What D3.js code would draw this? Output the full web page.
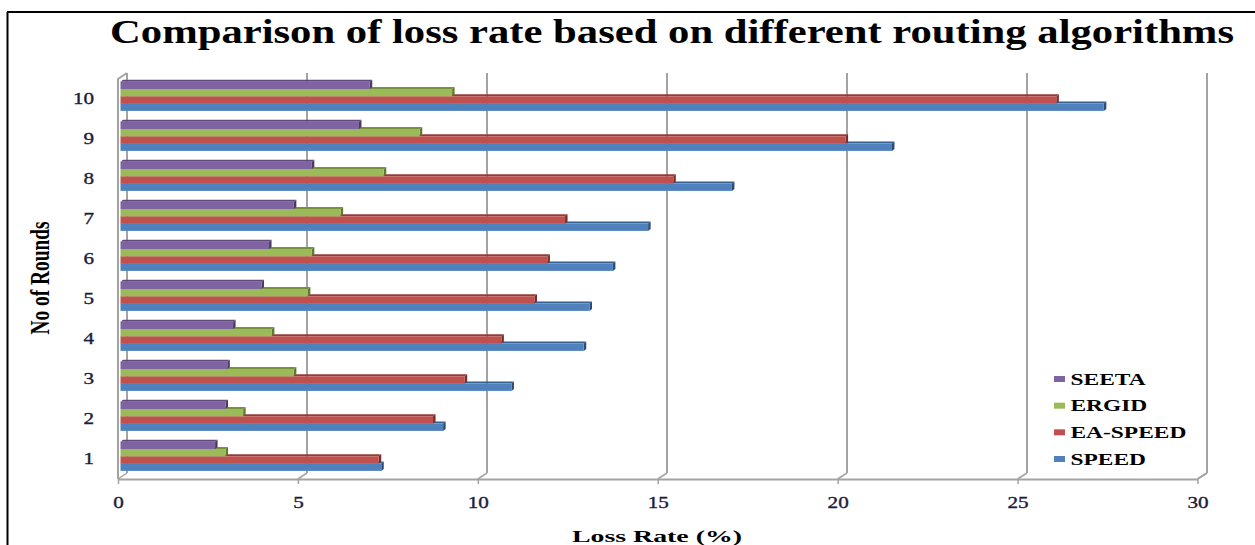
<!DOCTYPE html>
<html>
<head>
<meta charset="utf-8">
<script src="https://cdn.jsdelivr.net/npm/d3@7"></script>
<style>
  html, body { margin: 0; padding: 0; background: #fff; }
  svg { display: block; }
  text { font-family: "Liberation Serif", "Times New Roman", serif; }
</style>
</head>
<body>
<svg id="chart" width="1255" height="545"></svg>
<script>
// Loss rate (%) per round for each routing algorithm
const categories = ["1", "2", "3", "4", "5", "6", "7", "8", "9", "10"];
const seriesNames = ["SEETA", "ERGID", "EA-SPEED", "SPEED"];
const seeta   = [2.63, 2.92, 2.97, 3.13, 3.92, 4.13, 4.82, 5.32, 6.63, 6.93];
const ergid   = [2.92, 3.41, 4.82, 4.21, 5.21, 5.32, 6.12, 7.32, 8.32, 9.22];
const eaSpeed = [7.18, 8.69, 9.57, 10.59, 11.51, 11.87, 12.36, 15.37, 20.16, 26.02];
const speed   = [7.25, 8.97, 10.87, 12.88, 13.04, 13.69, 14.67, 17.00, 21.45, 27.34];
const xTicks  = [0, 5, 10, 15, 20, 25, 30];

const seriesValues = { "SEETA": seeta, "ERGID": ergid, "EA-SPEED": eaSpeed, "SPEED": speed };
const colors = {
  "SEETA":    { face: "#8064A2", top: "#5f4a7e", side: "#4b3a66" },
  "ERGID":    { face: "#9BBB59", top: "#76923c", side: "#5f7a2e" },
  "EA-SPEED": { face: "#C0504D", top: "#933b39", side: "#7a2c2a" },
  "SPEED":    { face: "#4F81BD", top: "#375f8f", side: "#2b4c75" }
};

const svg = d3.select("#chart");

// page frame
svg.append("line").attr("x1", 7).attr("x2", 1255).attr("y1", 12).attr("y2", 12)
  .attr("stroke", "#000").attr("stroke-width", 2);
svg.append("line").attr("x1", 7.5).attr("x2", 7.5).attr("y1", 12).attr("y2", 545)
  .attr("stroke", "#000").attr("stroke-width", 2);

// pseudo-3D geometry: front plane, back wall, bar plane
const xFront = d3.scaleLinear().domain([0, 30]).range([118, 1197.5]);
const xBack  = d3.scaleLinear().domain([0, 30]).range([127, 1207]);
const xBar   = d3.scaleLinear().domain([0, 30]).range([120.5, 1199.5]);
const floorFront = 479, floorBack = 473, wallTop = 73;

const y = d3.scaleBand()
  .domain(categories.slice().reverse())
  .range([76.3, 476.3])
  .paddingInner(0.27)
  .paddingOuter(0.135);
const ySeries = d3.scaleBand().domain(seriesNames).range([0, y.bandwidth()]);

const wallStroke = "#a3a3a3";

// back-wall gridlines with floor connectors
const grid = svg.append("g");
xTicks.forEach(t => {
  grid.append("line")
    .attr("x1", xBack(t)).attr("x2", xBack(t))
    .attr("y1", wallTop).attr("y2", floorBack)
    .attr("stroke", wallStroke).attr("stroke-width", 2);
  grid.append("line")
    .attr("x1", xBack(t)).attr("y1", floorBack)
    .attr("x2", xFront(t)).attr("y2", floorFront)
    .attr("stroke", wallStroke).attr("stroke-width", 1.5);
});
// left side wall edges
grid.append("path")
  .attr("d", `M${xFront(0)},${floorFront} L${xFront(0)},${wallTop + 6} L${xBack(0)},${wallTop}`)
  .attr("fill", "none").attr("stroke", wallStroke).attr("stroke-width", 2);

// bars: draw from SPEED upward so each upper bar covers the top face below it
const depthX = 2.5, depthY = 2;
const barsG = svg.append("g");
categories.forEach((cat, i) => {
  const g = barsG.append("g").attr("transform", `translate(0,${y(cat)})`);
  seriesNames.slice().reverse().forEach(name => {
    const v = seriesValues[name][i];
    const x0 = xBar(0), x1 = xBar(v);
    const y0 = ySeries(name), h = ySeries.bandwidth();
    const c = colors[name];
    g.append("path")
      .attr("d", `M${x0},${y0} L${x0 + depthX},${y0 - depthY} L${x1 + depthX},${y0 - depthY} L${x1},${y0} Z`)
      .attr("fill", c.top);
    g.append("path")
      .attr("d", `M${x1},${y0} L${x1 + depthX},${y0 - depthY} L${x1 + depthX},${y0 + h - depthY} L${x1},${y0 + h} Z`)
      .attr("fill", c.side);
    g.append("rect")
      .attr("x", x0).attr("y", y0)
      .attr("width", x1 - x0).attr("height", h)
      .attr("fill", c.face);
  });
});

// right wall edge down to the front floor corner
svg.append("path")
  .attr("d", `M${xBack(30)},${floorBack} L${xFront(30)},${floorFront}`)
  .attr("fill", "none").attr("stroke", wallStroke).attr("stroke-width", 1.5);

// x axis on the front floor edge
const xAxis = svg.append("g")
  .attr("transform", `translate(0,${floorFront})`)
  .call(d3.axisBottom(xFront).tickValues(xTicks).tickSize(5).tickSizeOuter(0).tickFormat(d3.format("d")));
xAxis.select(".domain").attr("stroke", wallStroke).attr("stroke-width", 2);
xAxis.selectAll(".tick line").attr("stroke", wallStroke).attr("stroke-width", 1.5);
xAxis.selectAll(".tick text")
  .attr("y", 29).attr("dy", null)
  .attr("transform", "scale(1.32,1)")
  .attr("fill", "#1c1c3c")
  .attr("stroke", "#1c1c3c").attr("stroke-width", 0.35)
  .attr("font-size", 16);

// category labels
const yAxis = svg.append("g")
  .attr("transform", "translate(94,0)")
  .call(d3.axisLeft(y).tickSize(0).tickPadding(0));
yAxis.select(".domain").remove();
yAxis.selectAll(".tick text")
  .attr("x", 0).attr("dy", null).attr("y", 8)
  .attr("text-anchor", "end")
  .attr("transform", "scale(1.32,1)")
  .attr("fill", "#1c1c3c")
  .attr("stroke", "#1c1c3c").attr("stroke-width", 0.35)
  .attr("font-size", 16);

// title
svg.append("text")
  .attr("x", 110).attr("y", 43)
  .attr("font-size", 33).attr("font-weight", "bold")
  .attr("textLength", 1124).attr("lengthAdjust", "spacingAndGlyphs")
  .attr("fill", "#000")
  .text("Comparison of loss rate based on different routing algorithms");

// axis titles
svg.append("text")
  .attr("x", 572).attr("y", 541.5)
  .attr("font-size", 17.5).attr("font-weight", "bold")
  .attr("textLength", 170).attr("lengthAdjust", "spacingAndGlyphs")
  .attr("fill", "#000")
  .text("Loss Rate (%)");

svg.append("text")
  .attr("transform", "translate(48.5,278) scale(1.4,1) rotate(-90)")
  .attr("text-anchor", "middle")
  .attr("font-size", 19).attr("font-weight", "bold")
  .attr("textLength", 113).attr("lengthAdjust", "spacingAndGlyphs")
  .attr("fill", "#000")
  .text("No of Rounds");

// legend
const legendRows = d3.scaleLinear().domain([0, 3]).range([379, 459]);
const legend = svg.append("g");
seriesNames.forEach((name, i) => {
  const cy = legendRows(i);
  legend.append("rect")
    .attr("x", 1054).attr("y", cy - 3)
    .attr("width", 11).attr("height", 6)
    .attr("fill", colors[name].face);
  legend.append("text")
    .attr("transform", `translate(1070.5,${cy + 5.5}) scale(1.42,1)`)
    .attr("font-size", 16.5).attr("font-weight", "bold")
    .attr("fill", "#000")
    .text(name);
});
</script>
</body>
</html>
